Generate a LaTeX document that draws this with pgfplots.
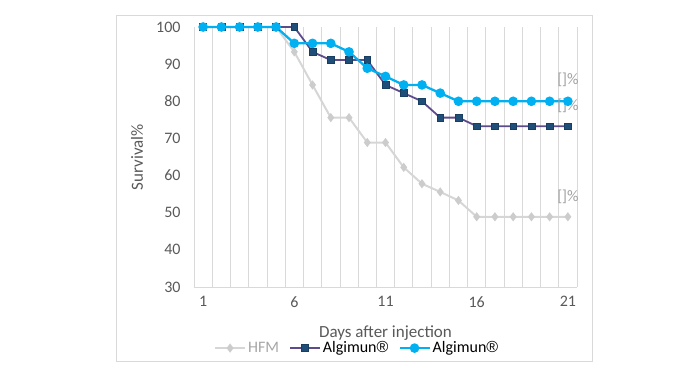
\documentclass[border=0pt]{standalone}
\usepackage{fontspec}
\setmainfont{Carlito}
\newfontfamily\regfont{Liberation Sans}
\usepackage{pgfplots}
\pgfplotsset{compat=1.18}
\definecolor{gridgray}{HTML}{D9D9D9}
\definecolor{txtgray}{HTML}{595959}
\definecolor{hfm}{HTML}{D6D6D6}
\definecolor{hfmmark}{HTML}{CCCCCC}
\definecolor{hfmtxt}{HTML}{A6A6A6}
\definecolor{lbl}{HTML}{A0A0A0}
\definecolor{algline}{HTML}{5E4B8C}
\definecolor{algmark}{HTML}{1F4E79}
\definecolor{cyanc}{HTML}{00B0F0}
\begin{document}
\begin{tikzpicture}[x=1pt,y=1pt]
\path (0,0) rectangle (695,390);
\draw[gridgray, line width=0.8pt] (116,29) rectangle (592,375);
\begin{axis}[
  at={(194pt,103pt)}, anchor=south west,
  scale only axis, width=383pt, height=260pt,
  xmin=0.5, xmax=21.5, ymin=30, ymax=100,
  xtick={1,6,11,16,21}, ytick={30,40,...,100},
  minor xtick={0.5,1.5,...,21.5},
  xminorgrids=true,
  minor grid style={gridgray, line width=0.8pt},
  major tick length=0pt, minor tick length=0pt,
  axis x line*=bottom, axis y line*=left,
  axis line style={-, gridgray, line width=0.8pt},
  y axis line style={draw=none},
  /pgf/number format/assume math mode=true,
  tick label style={font=\fontsize{16}{19}\selectfont, color=txtgray},
  xticklabel style={yshift=-6pt},
  yticklabel style={xshift=-10pt},
  xlabel={Days after injection},
  ylabel={Survival\%},
  label style={font=\fontsize{17}{20}\selectfont, color=txtgray},
  xlabel style={at={(axis description cs:0.5,-0.177)}, anchor=center},
  ylabel style={at={(axis description cs:-0.149,0.5)}, anchor=center},
  legend style={draw=none, fill=none, legend columns=-1, at={(0.426,-0.235)}, anchor=center,
    font=\fontsize{16}{19}\selectfont,
    /tikz/every even column/.append style={column sep=8pt}},
  legend image code/.code={\draw[mark repeat=2,mark phase=2] plot coordinates {(0pt,0pt) (15pt,0pt) (30pt,0pt)};},
  clip=false,
]
\addplot[hfm, line width=2pt, mark=diamond*, mark size=3pt, mark options={fill=hfmmark, draw=hfmmark}] coordinates {
(1,100)(2,100)(3,100)(4,100)(5,100)(6,93.3)(7,84.4)(8,75.6)(9,75.6)(10,68.9)(11,68.9)
(12,62.2)(13,57.8)(14,55.6)(15,53.3)(16,48.9)(17,48.9)(18,48.9)(19,48.9)(20,48.9)(21,48.9)};
\addlegendentry{\textcolor{hfmtxt}{HFM}}
\addplot[algline, line width=1.8pt, mark=square*, mark size=3.4pt, mark options={fill=algmark, draw=algmark!80!black, line width=0.5pt}] coordinates {
(1,100)(2,100)(3,100)(4,100)(5,100)(6,100)(7,93.3)(8,91.1)(9,91.1)(10,91.1)(11,84.4)
(12,82.2)(13,80.0)(14,75.6)(15,75.6)(16,73.3)(17,73.3)(18,73.3)(19,73.3)(20,73.3)(21,73.3)};
\addlegendentry{Algimun{\regfont ®}}
\addplot[cyanc, line width=2.3pt, mark=*, mark size=3.6pt, mark options={fill=cyanc, draw=cyanc}] coordinates {
(1,100)(2,100)(3,100)(4,100)(5,100)(6,95.6)(7,95.6)(8,95.6)(9,93.3)(10,88.9)(11,86.7)
(12,84.4)(13,84.4)(14,82.2)(15,80.0)(16,80.0)(17,80.0)(18,80.0)(19,80.0)(20,80.0)(21,80.0)};
\addlegendentry{Algimun{\regfont ®}}
\node[lbl, font=\fontsize{16}{19}\selectfont] at (axis cs:21,80.0) [yshift=21pt] {[]\%};
\node[lbl, font=\fontsize{16}{19}\selectfont] at (axis cs:21,73.3) [yshift=20pt] {[]\%};
\node[lbl, font=\fontsize{16}{19}\selectfont] at (axis cs:21,48.9) [yshift=20pt] {[]\%};
\end{axis}
\end{tikzpicture}
\end{document}
